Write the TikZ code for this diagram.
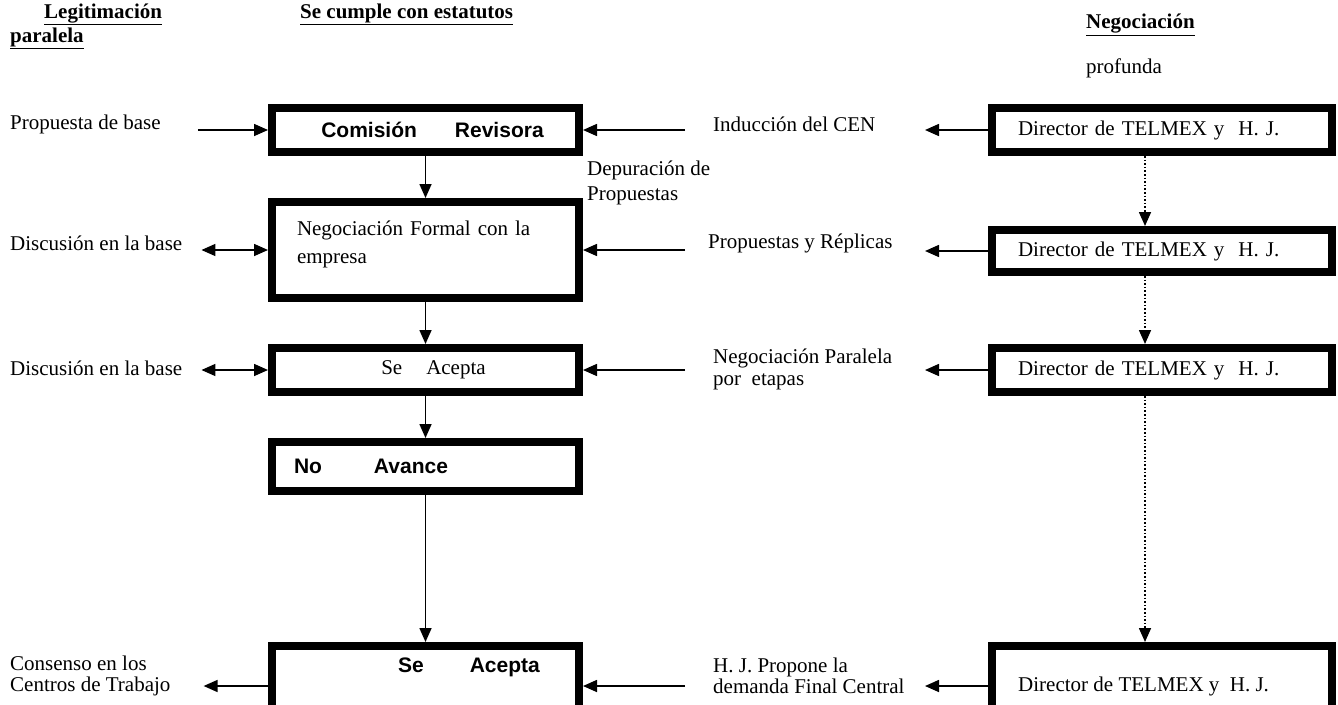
\documentclass[tikz,border=0pt]{standalone}
\usepackage{fontspec}
\setmainfont{Liberation Serif}
\newfontfamily\arialfont{Liberation Sans}
\usetikzlibrary{arrows.meta}
\newcommand{\txtsize}{\fontsize{21}{22}\selectfont}

\begin{document}
\begin{tikzpicture}[x=1pt, y=-1pt, >={Triangle[length=14pt,width=12pt]},
	box/.style={draw, line width=8pt, anchor=north west, inner sep=0pt, minimum width=307pt},
	dbox/.style={box, minimum width=340pt, text width=288pt, align=left, font=\txtsize},
	lbl/.style={font=\txtsize, inner sep=0pt, anchor=west, align=left},
	head/.style={font=\fontsize{21}{24}\selectfont\bfseries, inner sep=0pt, align=left, anchor=west},
	arr/.style={line width=1.6pt},
	dots/.style={line width=1.6pt, dotted}]

	\useasboundingbox (0,0) rectangle (1338,704);
	\clip (0,0) rectangle (1338,704);

	% titulos
	\node[head] (leg) at (10,26) {\hspace*{34pt}\underline{Legitimación}\\\underline{paralela}};
	\node[head] (sce) at (300,14) {\underline{Se cumple con estatutos}};
	\node[head] (neg) at (1086,25) {\underline{Negociación}};
	\node[lbl] (prof) at (1086,68) {profunda};

	% columna central
	\node[box, minimum height=44pt, font=\arialfont\bfseries\txtsize] (com) at (268,104) {\hspace*{14pt}Comisión\hspace{38pt}Revisora};
	\node[box, minimum height=96pt, text width=257pt, align=left, font=\txtsize] (nf) at (268,198) {Negociación Formal con la\\[6pt]empresa\\[-6pt]~};
	\node[box, minimum height=44pt, font=\txtsize] (sa) at (268,344) {\hspace*{16pt}Se\hspace{24pt}Acepta};
	\node[box, minimum height=49pt, text width=263pt, align=left, font=\arialfont\bfseries\txtsize] (na) at (268,438) {No\hspace{52pt}Avance};
	\node[box, minimum height=80pt] (sf) at (268,642) {};
	\node[font=\arialfont\bfseries\txtsize, inner sep=0pt] (sft) at (469,667) {Se\hspace{46pt}Acepta};

	\draw[arr,->] (com.south) -- (nf.north);
	\draw[arr,->] (nf.south) -- (sa.north);
	\draw[arr,->] (sa.south) -- (na.north);
	\draw[arr,->] (na.south) -- (sf.north);

	% columna derecha
	\node[dbox, minimum height=44pt] (d1) at (988,104) {Director de TELMEX y\ \ H. J.};
	\node[dbox, minimum height=42pt] (d2) at (988,226) {Director de TELMEX y\ \ H. J.};
	\node[dbox, minimum height=44pt] (d3) at (988,344) {Director de TELMEX y\ \ H. J.};
	\node[dbox, minimum height=80pt] (d4) at (988,642) {};
	\node[font=\txtsize, inner sep=0pt, anchor=west] (d4t) at (1018,686) {Director de TELMEX y\ \ H. J.};

	\draw[dots,->] ([xshift=-17pt]d1.south) -- ([xshift=-17pt]d2.north);
	\draw[dots,->] ([xshift=-17pt]d2.south) -- ([xshift=-17pt]d3.north);
	\draw[dots,->] ([xshift=-17pt]d3.south) -- ([xshift=-17pt]d4.north);

	% textos izquierda
	\node[lbl] (pdb) at (10,124) {Propuesta de base};
	\node[lbl] (db1) at (10,243) {Discusión en la base};
	\node[lbl] (db2) at (10,368) {Discusión en la base};
	\node[lbl, font=\fontsize{21}{21}\selectfont] (cct) at (10,676) {Consenso en los\\Centros de Trabajo};

	\draw[arr,->,shorten <=37pt] (pdb.east |- com.west) -- (com.west);
	\draw[arr,<->,shorten <=19pt] (db1.east |- nf.west) -- (nf.west);
	\draw[arr,<->,shorten <=19pt] (db2.east |- sa.west) -- (sa.west);
	\draw[arr,->,shorten >=33pt] (sf.west) -- (cct.east |- sf.west);

	% textos derecha
	\node[lbl] (ind) at (713,124) {Inducción del CEN};
	\node[lbl, font=\fontsize{21}{25}\selectfont] (dep) at (587,183) {Depuración de\\Propuestas};
	\node[lbl] (pyr) at (708,243) {Propuestas y Réplicas};
	\node[lbl] (npe) at (713,369) {Negociación Paralela\\por\ \ etapas};
	\node[lbl, font=\fontsize{21}{21}\selectfont] (hjp) at (713,676) {H. J. Propone la\\demanda Final Central};

	\draw[arr,->,shorten <=28pt] (ind.west |- com.east) -- (com.east);
	\draw[arr,->,shorten <=23pt] (pyr.west |- nf.east) -- (nf.east);
	\draw[arr,->,shorten <=28pt] (npe.west |- sa.east) -- (sa.east);
	\draw[arr,->,shorten <=28pt] (hjp.west |- sf.east) -- (sf.east);

	\draw[arr,->,shorten >=212pt] (d1.west) -- (ind.west |- d1.west);
	\draw[arr,->,shorten >=217pt] (d2.west) -- (pyr.west |- d2.west);
	\draw[arr,->,shorten >=212pt] (d3.west) -- (npe.west |- d3.west);
	\draw[arr,->,shorten >=212pt] (d4.west) -- (hjp.west |- d4.west);

\end{tikzpicture}
\end{document}
